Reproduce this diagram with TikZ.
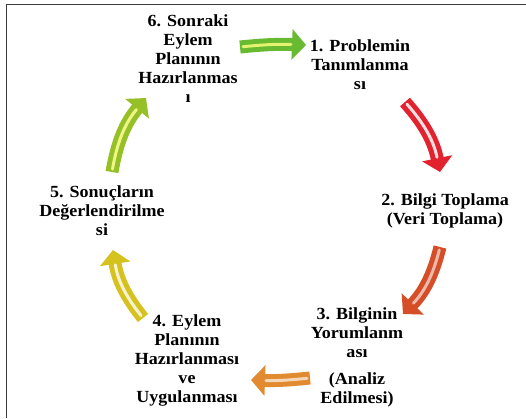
\documentclass[tikz,border=0pt]{standalone}
\usepackage{fontspec}
\setmainfont{Liberation Serif}[FakeStretch=1.06]
\usetikzlibrary{arrows.meta}
\definecolor{cgreen}{RGB}{104,186,48}
\definecolor{cred}{RGB}{226,34,46}
\definecolor{cored}{RGB}{214,78,40}
\definecolor{corange}{RGB}{226,138,48}
\definecolor{cyellow}{RGB}{214,194,30}
\definecolor{cygreen}{RGB}{150,192,40}
\definecolor{frame}{RGB}{60,60,60}
\tikzset{
  lbl/.style={font=\bfseries\fontsize{17}{19}\selectfont, align=center, inner sep=0pt},
  blockarrow/.style={line width=13pt, color=#1, -{Triangle[width=30pt,length=14pt]}},
  shine/.style={line width=3pt, color=#1, shorten >=15pt, shorten <=3pt, line cap=round},
}
\begin{document}
\begin{tikzpicture}[x=1pt,y=1pt]
\useasboundingbox (0,0) rectangle (526,418);
\fill[white] (0,0) rectangle (526,418);
% frame (top and left only)
\draw[frame, line width=1.6pt] (6.5,0) -- (6.5,413.5) -- (526,413.5);

% labels
\node[lbl] (n6) at (188,359) {6. Sonraki\\Eylem\\Planının\\Hazırlanmas\\ı};
\node[lbl] (n1) at (360,353) {1. Problemin\\Tanımlanma\\sı};
\node[lbl] (n2) at (445,207) {2. Bilgi Toplama\\(Veri Toplama)};
\node[lbl] (n3) at (357,60.5) {3. Bilginin\\Yorumlanm\\ası\\[8pt](Analiz\\Edilmesi)};
\node[lbl] (n4) at (187,57.5) {4. Eylem\\Planının\\Hazırlanması\\ve\\Uygulanması};
\node[lbl] (n5) at (102,207) {5. Sonuçların\\Değerlendirilme\\si};

% arrow end points
\coordinate (t1) at (240,371);  \coordinate (h1) at (306,373);
\coordinate (t2) at (405,316);  \coordinate (h2) at (440,246);
\coordinate (t3) at (440,171);  \coordinate (h3) at (403,104);
\coordinate (t4) at (310,40);   \coordinate (h4) at (251,38);
\coordinate (t5) at (143,100);  \coordinate (h5) at (113,168);
\coordinate (t6) at (112,246);  \coordinate (h6) at (146,320);

% arrows
\draw[blockarrow=cgreen] (t1) to[bend left=4] (h1);
\draw[shine=cgreen!30!yellow!60!white] (t1) to[bend left=4] (h1);

\draw[blockarrow=cred] (t2) to[bend left=15] (h2);
\draw[shine=cred!15!white] (t2) to[bend left=15] (h2);

\draw[blockarrow=cored] (t3) to[bend left=15] (h3);
\draw[shine=cored!40!white] (t3) to[bend left=15] (h3);

\draw[blockarrow=corange] (t4) to[bend left=4] (h4);
\draw[shine=corange!35!white] (t4) to[bend left=4] (h4);

\draw[blockarrow=cyellow] (t5) to[bend left=15] (h5);
\draw[shine=cyellow!20!white] (t5) to[bend left=15] (h5);

\draw[blockarrow=cygreen] (t6) to[bend left=15] (h6);
\draw[shine=cygreen!30!yellow!50!white] (t6) to[bend left=15] (h6);
\end{tikzpicture}
\end{document}
